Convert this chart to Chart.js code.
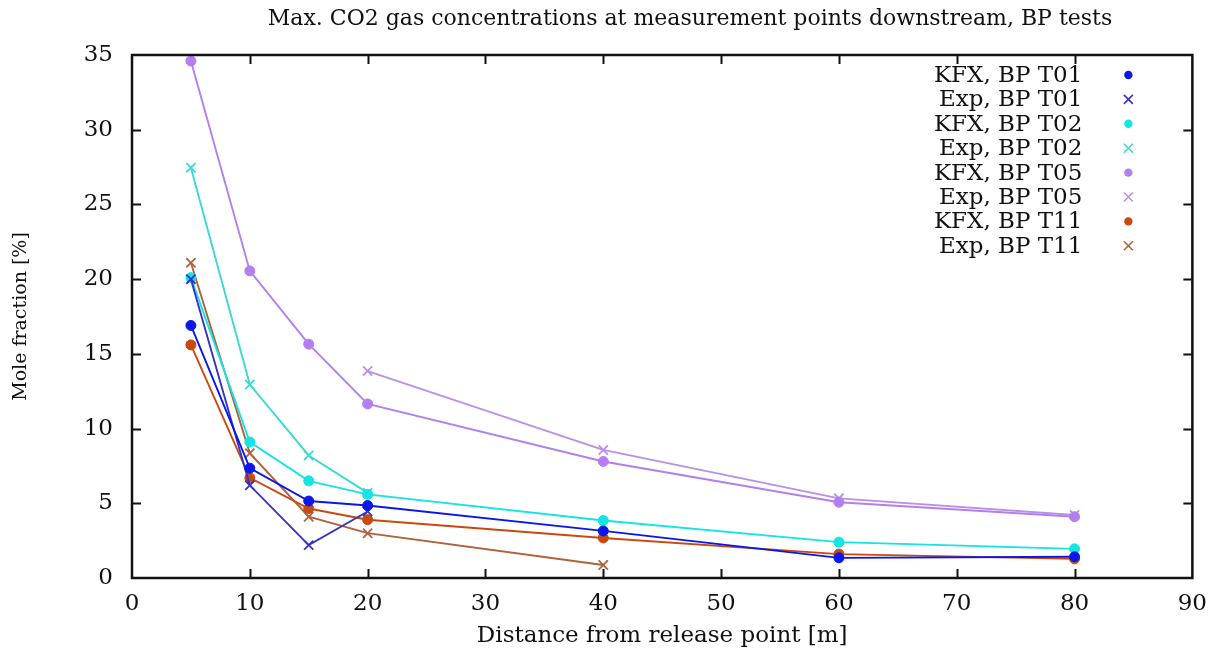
<!DOCTYPE html>
<html>
<head>
<meta charset="utf-8">
<script src="https://cdn.jsdelivr.net/npm/chart.js@4.4.1/dist/chart.umd.min.js"></script>
<style>
  html, body { margin: 0; padding: 0; background: #ffffff; }
  #wrap { width: 1219px; height: 656px; position: relative; }
</style>
</head>
<body>
<div id="wrap"><canvas id="c" width="1219" height="656"></canvas></div>
<script>
// ---- data ----
const distances = [5, 10, 15, 20, 40, 60, 80];
const xTicks = [0, 10, 20, 30, 40, 50, 60, 70, 80, 90];
const yTicks = [0, 5, 10, 15, 20, 25, 30, 35];

const kfxT01 = [16.9, 7.35, 5.15, 4.85, 3.15, 1.35, 1.42];
const expT01 = [20.0, 6.2, 2.2, 4.45, null, null, null];
const kfxT02 = [20.1, 9.1, 6.5, 5.6, 3.85, 2.4, 1.95];
const expT02 = [27.45, 12.95, 8.2, 5.7, null, null, null];
const kfxT05 = [34.6, 20.55, 15.65, 11.65, 7.8, 5.07, 4.1];
const expT05 = [null, null, null, 13.85, 8.57, 5.33, 4.22];
const kfxT11 = [15.6, 6.7, 4.65, 3.9, 2.68, 1.6, 1.28];
const expT11 = [21.1, 8.35, 4.1, 3.0, 0.87, null, null];

const chartTitle = 'Max. CO2 gas concentrations at measurement points downstream, BP tests';
const seriesLabels = ['KFX, BP T01', 'Exp, BP T01', 'KFX, BP T02', 'Exp, BP T02',
                      'KFX, BP T05', 'Exp, BP T05', 'KFX, BP T11', 'Exp, BP T11'];
const seriesValues = [kfxT01, expT01, kfxT02, expT02, kfxT05, expT05, kfxT11, expT11];
const seriesColors = ['#0b16e8', '#3434c8', '#14e4e4', '#3cd8d8',
                      '#b47ef0', '#b890e6', '#c84a10', '#b0603c'];
const seriesMarkers = ['circle', 'crossRot', 'circle', 'crossRot',
                       'circle', 'crossRot', 'circle', 'crossRot'];

const SERIF = '"DejaVu Serif", "Liberation Serif", serif';

const datasets = seriesLabels.map((lab, i) => ({
  label: lab,
  data: distances.map((d, j) => ({ x: d, y: seriesValues[i][j] })).filter(p => p.y !== null),
  borderColor: seriesColors[i],
  backgroundColor: seriesColors[i],
  pointBackgroundColor: seriesColors[i],
  pointBorderColor: seriesColors[i],
  pointStyle: seriesMarkers[i],
  pointRadius: seriesMarkers[i] === 'circle' ? 5 : 6.5,
  pointBorderWidth: seriesMarkers[i] === 'circle' ? 1 : 1.8,
  borderWidth: 1.9,
  tension: 0,
  fill: false
}));

// title, frame, inward ticks and legend (gnuplot-like)
const framePlugin = {
  id: 'frame',
  afterDraw(chart) {
    const ctx = chart.ctx;
    const a = chart.chartArea;
    const xs = chart.scales.x, ys = chart.scales.y;
    ctx.save();

    ctx.fillStyle = '#111111';
    ctx.font = '22px ' + SERIF;
    ctx.textAlign = 'center';
    ctx.textBaseline = 'middle';
    ctx.fillText(chartTitle, 690, 19);

    ctx.strokeStyle = '#111111';
    ctx.lineWidth = 2;
    const tl = 9;
    ctx.beginPath();
    xTicks.forEach(v => {
      if (v === 0 || v === 90) return;
      const px = Math.round(xs.getPixelForValue(v)) + 0.5;
      ctx.moveTo(px, a.bottom); ctx.lineTo(px, a.bottom - tl);
      ctx.moveTo(px, a.top); ctx.lineTo(px, a.top + tl);
    });
    yTicks.forEach(v => {
      if (v === 0 || v === 35) return;
      const py = Math.round(ys.getPixelForValue(v)) + 0.5;
      ctx.moveTo(a.left, py); ctx.lineTo(a.left + tl, py);
      ctx.moveTo(a.right, py); ctx.lineTo(a.right - tl, py);
    });
    ctx.stroke();
    ctx.lineWidth = 2.5;
    ctx.strokeRect(a.left, a.top, a.right - a.left, a.bottom - a.top);

    // legend: right-aligned text, marker to the right
    const textRight = a.right - 110;
    const markX = a.right - 64;
    const top = a.top + 20;
    const step = 24.4;
    ctx.font = '23px ' + SERIF;
    ctx.textAlign = 'right';
    ctx.textBaseline = 'middle';
    chart.data.datasets.forEach((ds, i) => {
      const y = top + i * step;
      ctx.fillStyle = '#111111';
      ctx.fillText(ds.label, textRight, y + 1);
      ctx.fillStyle = ds.pointBackgroundColor;
      ctx.strokeStyle = ds.pointBorderColor;
      if (ds.pointStyle === 'circle') {
        ctx.beginPath(); ctx.arc(markX, y, 4.2, 0, Math.PI * 2); ctx.fill();
      } else {
        ctx.lineWidth = 1.6;
        const r = 4.5;
        ctx.beginPath();
        ctx.moveTo(markX - r, y - r); ctx.lineTo(markX + r, y + r);
        ctx.moveTo(markX - r, y + r); ctx.lineTo(markX + r, y - r);
        ctx.stroke();
      }
    });
    ctx.restore();
  }
};

new Chart(document.getElementById('c'), {
  type: 'line',
  data: { datasets },
  options: {
    responsive: false,
    animation: false,
    devicePixelRatio: 1,
    layout: { padding: { left: 0, right: 25, top: 55, bottom: 0 } },
    plugins: {
      legend: { display: false },
      tooltip: { enabled: false },
      title: { display: false }
    },
    scales: {
      x: {
        type: 'linear',
        min: 0, max: 90,
        afterFit(s) { s.height = 78; },
        afterBuildTicks(s) { s.ticks = xTicks.map(v => ({ value: v })); },
        grid: { display: false, drawTicks: false },
        border: { display: false },
        ticks: {
          color: '#111111', padding: 12, maxRotation: 0,
          font: { family: SERIF, size: 23 }
        },
        title: {
          display: true,
          text: 'Distance from release point [m]',
          color: '#111111',
          font: { family: SERIF, size: 23 },
          padding: { top: 0, bottom: 6 }
        }
      },
      y: {
        type: 'linear',
        min: 0, max: 35,
        afterFit(s) { s.width = 132; },
        afterBuildTicks(s) { s.ticks = yTicks.map(v => ({ value: v })); },
        grid: { display: false, drawTicks: false },
        border: { display: false },
        ticks: {
          color: '#111111', padding: 19,
          font: { family: SERIF, size: 23 }
        },
        title: {
          display: true,
          text: 'Mole fraction [%]',
          color: '#111111',
          font: { family: SERIF, size: 19 },
          padding: { top: 10, bottom: 0 }
        }
      }
    }
  },
  plugins: [framePlugin]
});
</script>
</body>
</html>
